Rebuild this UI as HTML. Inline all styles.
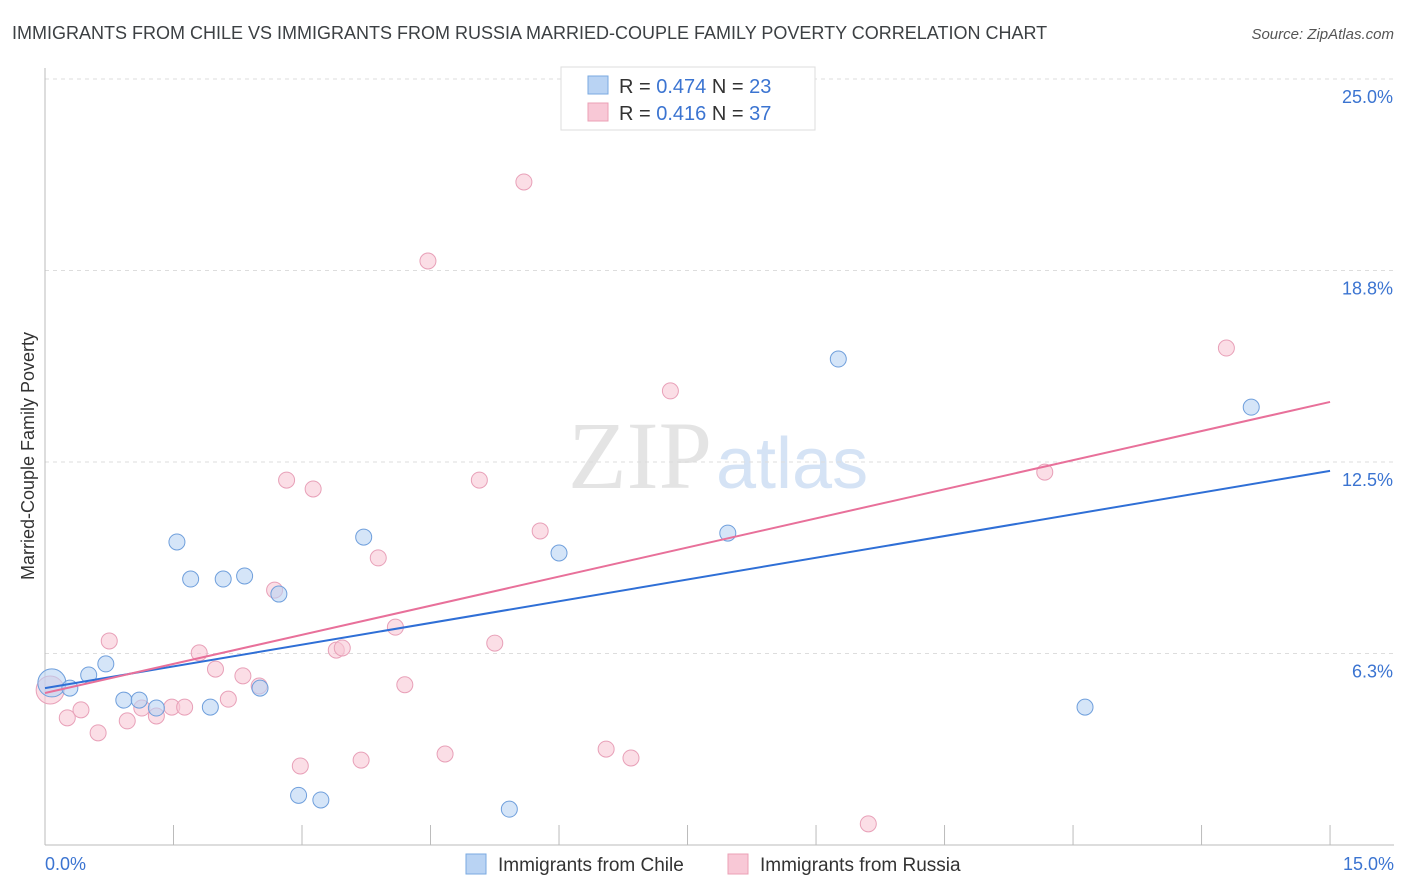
<!DOCTYPE html>
<html><head><meta charset="utf-8"><style>
body{margin:0;background:#fff;font-family:"Liberation Sans",sans-serif}
svg{display:block}
</style></head><body>
<svg id="c" width="1406" height="892">
<text x="12" y="39" font-size="18" fill="#3c4043">IMMIGRANTS FROM CHILE VS IMMIGRANTS FROM RUSSIA MARRIED-COUPLE FAMILY POVERTY CORRELATION CHART</text>
<text x="1394" y="39" font-size="15" fill="#555" text-anchor="end" font-style="italic">Source: ZipAtlas.com</text>
<text x="712" y="488" font-size="96" fill="#e4e4e4" font-family="Liberation Serif,serif" text-anchor="end">ZIP</text>
<text x="716" y="488" font-size="72" fill="#d5e3f5">atlas</text>
<text transform="translate(34,456) rotate(-90)" font-size="18" fill="#333" text-anchor="middle">Married-Couple Family Poverty</text>
<g id="grid"></g><g id="marks"></g>
<g>
<rect x="561" y="67" width="254" height="63" fill="#fff" stroke="#ddd"/>
<rect x="588" y="76" width="20" height="18" fill="#b9d3f3" stroke="#7aaae0"/>
<text x="619" y="93" font-size="20" fill="#333">R = <tspan fill="#3b74d1">0.474</tspan>   N = <tspan fill="#3b74d1">23</tspan></text>
<rect x="588" y="103" width="20" height="18" fill="#f8c8d6" stroke="#eba0b6"/>
<text x="619" y="120" font-size="20" fill="#333">R =  <tspan fill="#3b74d1">0.416</tspan>   N = <tspan fill="#3b74d1">37</tspan></text>
</g>
<g>
<rect x="466" y="854" width="20" height="20" fill="#b9d3f3" stroke="#7aaae0"/>
<text x="498" y="871" font-size="19" fill="#333">Immigrants from Chile</text>
<rect x="728" y="854" width="20" height="20" fill="#f8c8d6" stroke="#eba0b6"/>
<text x="760" y="871" font-size="19" fill="#333">Immigrants from Russia</text>
</g>
</svg>
<script>
const yTicks=[6.25,12.5,18.75,25];
const yTickLabels=["6.3%","12.5%","18.8%","25.0%"];
const xTickLabels=["0.0%","15.0%"];
const chileX=[0.08,0.29,0.51,0.71,0.92,1.10,1.30,1.54,1.70,1.93,2.08,2.33,2.51,2.73,2.96,3.22,3.72,5.42,6.00,7.97,9.26,12.14,14.08];
const chileY=[5.29,5.12,5.55,5.91,4.73,4.73,4.47,9.89,8.68,4.50,8.68,8.78,5.12,8.19,1.62,1.47,10.05,1.17,9.53,10.18,15.86,4.50,14.29];
const russiaX=[0.06,0.26,0.42,0.62,0.75,0.96,1.13,1.30,1.48,1.63,1.80,1.99,2.14,2.31,2.50,2.68,2.82,2.98,3.13,3.40,3.47,3.69,3.89,4.09,4.20,4.47,4.67,5.07,5.25,5.59,5.78,6.55,6.84,7.30,9.61,11.67,13.79];
const russiaY=[5.06,4.15,4.41,3.66,6.66,4.05,4.47,4.21,4.50,4.50,6.27,5.74,4.76,5.52,5.19,8.32,11.91,2.58,11.62,6.36,6.43,2.77,9.37,7.11,5.23,19.06,2.97,11.91,6.59,21.64,10.25,3.13,2.84,14.82,0.69,12.17,16.22];
const chileLine=[5.12,12.21];
const russiaLine=[4.96,14.46];
const X=v=>45+v*85.67, Y=v=>79+(25-v)*30.64;
const NS="http://www.w3.org/2000/svg";
const g=document.getElementById('grid'), m=document.getElementById('marks');
function el(t,a,p){const e=document.createElementNS(NS,t);for(const k in a)e.setAttribute(k,a[k]);p.appendChild(e);return e;}
yTicks.forEach((v,i)=>{
 const l=el('line',{x1:45,x2:1394,y1:Y(v),y2:Y(v),stroke:'#ddd','stroke-dasharray':'4,4'},g);
 
 
 const t=el('text',{x:1393,y:Y(v)+24,'font-size':18,fill:'#3b74d1','text-anchor':'end'},g);t.textContent=yTickLabels[i];
 
 
});
const ax=el('line',{x1:45,x2:1394,y1:845,y2:845,stroke:'#bbb'},g);


const ay=el('line',{x1:45,x2:45,y1:68,y2:845,stroke:'#bbb'},g);


for(let i=0;i<=10;i++){const t=el('line',{x1:X(i*1.5),x2:X(i*1.5),y1:825,y2:845,stroke:'#bbb'},g);
 
 }
[[0,'start',45],[15,'end',1394]].forEach((d,i)=>{const t=el('text',{x:d[2],y:870,'font-size':18,fill:'#3b74d1','text-anchor':d[1]},g);t.textContent=xTickLabels[i];
 
 });
function pts(xs,ys,fill,stroke,name){xs.forEach((x,i)=>{const r=(i===0)?14:8;
 const c=el('circle',{cx:X(x),cy:Y(ys[i]),r:r,fill:fill,'fill-opacity':0.6,stroke:stroke,'stroke-width':1},m);
 
 });}
pts(russiaX,russiaY,'#f8c8d6','#e8a0b8','russia-point');
pts(chileX,chileY,'#b9d3f3','#6f9fdc','chile-point');
const l1=el('line',{x1:X(0),y1:Y(chileLine[0]),x2:X(15),y2:Y(chileLine[1]),stroke:'#2f6fd6','stroke-width':2},m);


const l2=el('line',{x1:X(0),y1:Y(russiaLine[0]),x2:X(15),y2:Y(russiaLine[1]),stroke:'#e8709a','stroke-width':2},m);


</script>
</body></html>
